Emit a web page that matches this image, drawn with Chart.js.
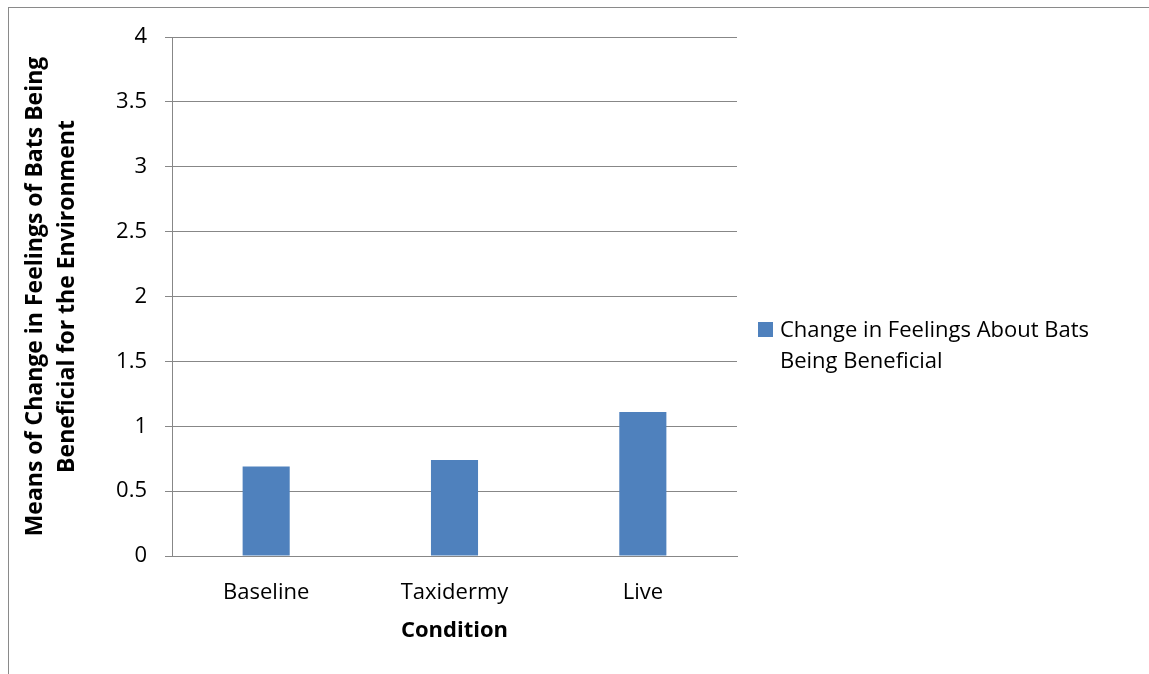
<!DOCTYPE html>
<html>
<head>
<meta charset="utf-8">
<script src="https://cdn.jsdelivr.net/npm/chart.js@4"></script>
<style>
  body { margin: 0; background: #fff; }
  #wrap { position: relative; width: 1149px; height: 674px; overflow: hidden; font-family: "Open Sans", sans-serif; }
  #frame { position: absolute; left: 8px; top: 7px; width: 2000px; height: 2000px; border-left: 1px solid #8a8a8a; border-top: 1px solid #8a8a8a; }
  #bats { position: absolute; left: 0; top: 0; }
  #legend { position: absolute; left: 758px; top: 313px; font-size: 22px; line-height: 31px; color: #000; }
  #legend .sw { position: absolute; left: 0; top: 9px; width: 15px; height: 15px; }
  #legend .txt { margin-left: 22px; }
</style>
</head>
<body>
<div id="wrap">
  <div id="frame"></div>
  <canvas id="bats" width="1149" height="674"></canvas>
  <div id="legend"></div>
</div>
<script>
const conditions = ["Baseline", "Taxidermy", "Live"];
const meanChange = [0.69, 0.74, 1.11];
const seriesName = "Change in Feelings About Bats Being Beneficial";
const legendLines = ["Change in Feelings About Bats", "Being Beneficial"];
const yTitle = ["Means of Change in Feelings of Bats Being", "Beneficial for the Environment"];
const xTitle = "Condition";
const barColor = "#4F81BD";
const gridColor = "#878787";

// legend sits outside the plot, to the right
const leg = document.getElementById("legend");
leg.innerHTML = `<span class="sw" style="background:${barColor}"></span><div class="txt">${legendLines.join("<br>")}</div>`;

new Chart(document.getElementById("bats").getContext("2d"), {
    type: "bar",
    data: {
        labels: conditions,
        datasets: [{
            label: seriesName,
            data: meanChange,
            backgroundColor: barColor,
            barPercentage: 1,
            categoryPercentage: 0.25
        }]
    },
    options: {
        responsive: false,
        animation: false,
        layout: { padding: { left: 0, top: 37, right: 412, bottom: 0 } },
        plugins: { legend: { display: false }, tooltip: { enabled: false } },
        scales: {
            x: {
                grid: { display: false },
                border: { display: true, color: gridColor, width: 1 },
                ticks: { color: "#000", font: { family: "Open Sans", size: 22 }, padding: 16 },
                title: { display: true, text: xTitle, color: "#000", font: { family: "Open Sans", size: 22, weight: "bold" }, padding: { top: 0, bottom: 30 } },
                afterFit: s => { s.height = 118; }
            },
            y: {
                min: 0,
                max: 4,
                ticks: { stepSize: 0.5, color: "#000", font: { family: "Open Sans", size: 22 }, padding: 18, callback: v => String(v) },
                grid: { color: gridColor, tickLength: 7, lineWidth: 1 },
                border: { color: gridColor, width: 1 },
                title: { display: true, text: yTitle, color: "#000", font: { family: "Open Sans", size: 23, weight: "bold", lineHeight: 1.4 }, padding: { top: 19, bottom: 0 } },
                afterFit: s => { s.width = 172; }
            }
        }
    }
});
</script>
</body>
</html>
